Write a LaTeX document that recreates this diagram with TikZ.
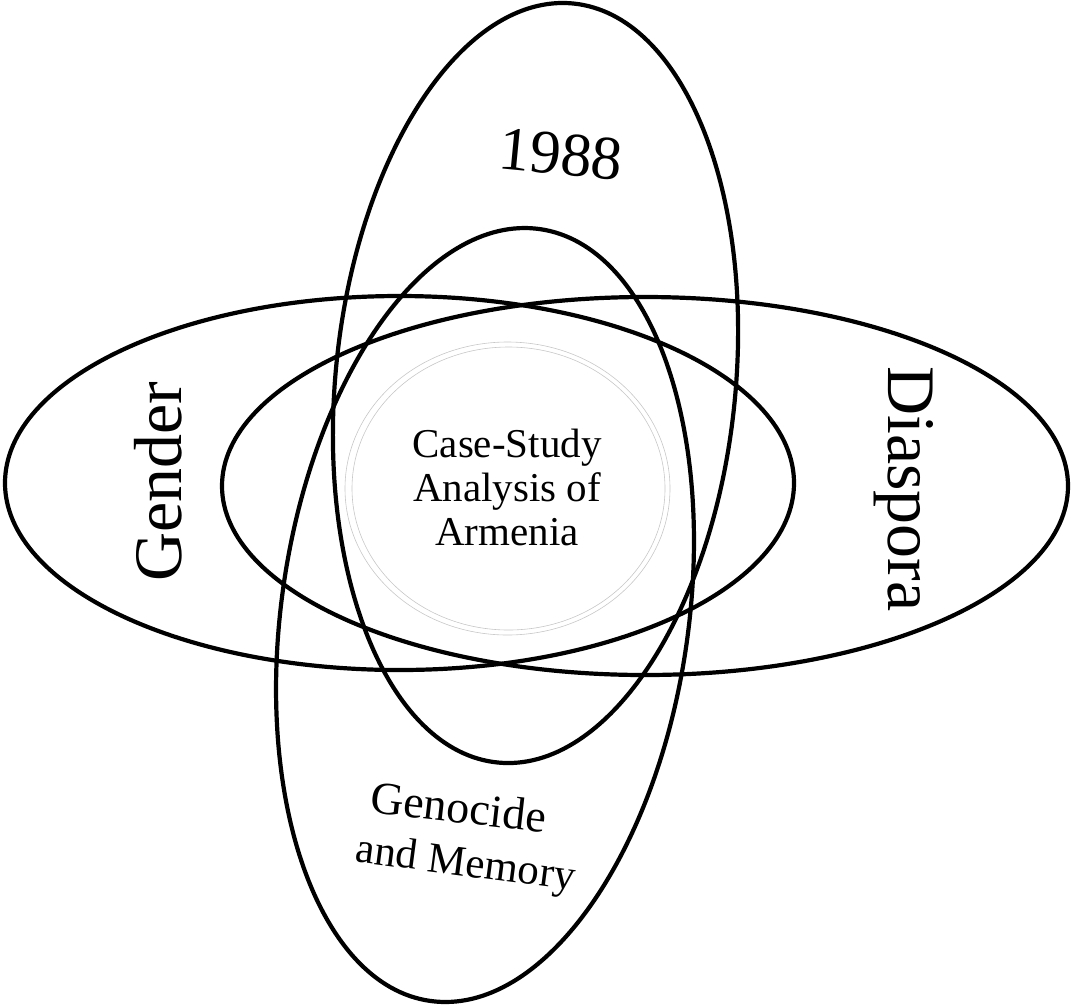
\documentclass[tikz,border=0pt]{standalone}
\usepackage{fontspec}
\setmainfont{Liberation Serif}
\begin{document}
\begin{tikzpicture}[x=1pt,y=1pt,
  ring/.style={draw=black,line width=4.2pt},
  core/.style={draw=black!22,line width=0.6pt},
  lbl/.style={inner sep=0pt,text=black}]
\useasboundingbox (0,0) rectangle (1073,-1005);
% horizontal ellipses
\draw[ring] (399.5,-483) ellipse [x radius=394.5, y radius=187];
\draw[ring] (645,-486) ellipse [x radius=423, y radius=189];
% tall ellipses
\draw[ring, rotate around={-5.7:(535.5,-383)}] (535.5,-383) ellipse [x radius=200, y radius=381.4];
\draw[ring, rotate around={-8.1:(485,-615)}] (485,-615) ellipse [x radius=203.6, y radius=389.8];
% central double circle
\draw[core] (507.5,-488.5) ellipse [x radius=162.5, y radius=146.5];
\draw[core] (508.5,-488.5) ellipse [x radius=156.5, y radius=141.5];
% labels
\node[lbl, align=center, font=\fontsize{41}{44}\selectfont] (core) at (507,-487) {Case-Study\\Analysis of\\Armenia};
\node[lbl, rotate=-5.5, font=\fontsize{62}{70}\selectfont] (year) at (561,-154) {1988};
\node[lbl, rotate=90, anchor=base, font=\fontsize{68}{76}\selectfont] (gender) at (181,-481.5) {Gender};
\node[lbl, rotate=-90, anchor=base, font=\fontsize{68}{76}\selectfont] (diaspora) at (888,-489) {Diaspora};
\node[lbl, rotate=-6.5, anchor=base, font=\fontsize{46}{52}\selectfont] (genocide) at (457,-822.5) {Genocide};
\node[lbl, rotate=-7.5, anchor=base, font=\fontsize{43}{52}\selectfont] (memory) at (464,-876) {and Memory};
\end{tikzpicture}
\end{document}
